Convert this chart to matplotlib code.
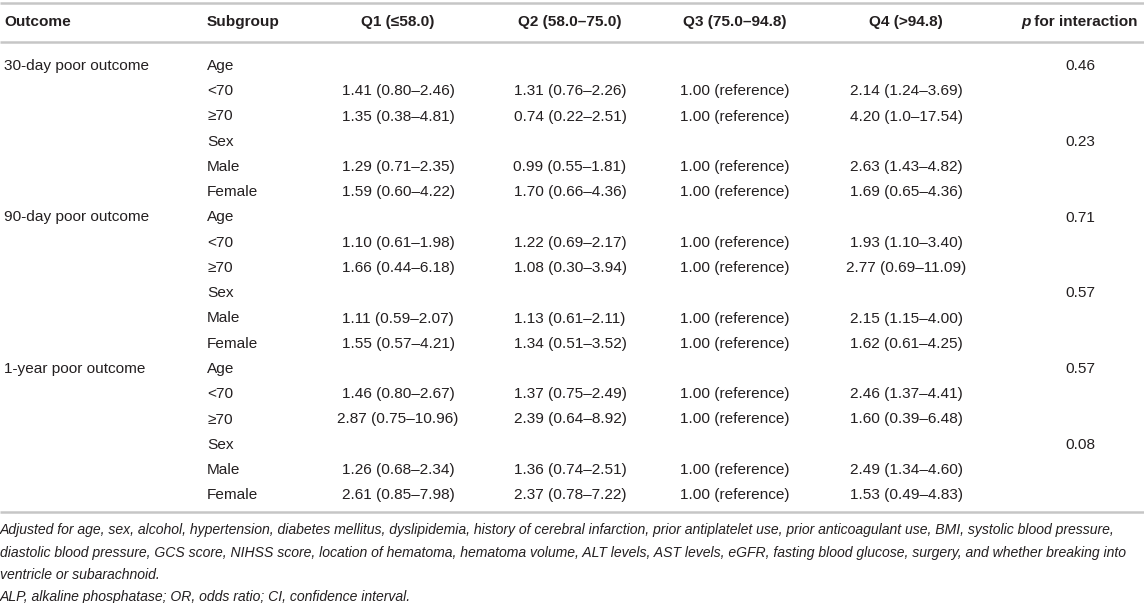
import matplotlib
matplotlib.use("Agg")
import matplotlib.pyplot as plt

# table content
headers = ["Outcome", "Subgroup", "Q1 (\u226458.0)", "Q2 (58.0\u201375.0)",
           "Q3 (75.0\u201394.8)", "Q4 (>94.8)", " for interaction"]
outcomes = ["30-day poor outcome", "90-day poor outcome", "1-year poor outcome"]
subgroups = ["Age", "<70", "\u226570", "Sex", "Male", "Female"]

q1 = [["1.41 (0.80\u20132.46)", "1.35 (0.38\u20134.81)", "1.29 (0.71\u20132.35)", "1.59 (0.60\u20134.22)"],
      ["1.10 (0.61\u20131.98)", "1.66 (0.44\u20136.18)", "1.11 (0.59\u20132.07)", "1.55 (0.57\u20134.21)"],
      ["1.46 (0.80\u20132.67)", "2.87 (0.75\u201310.96)", "1.26 (0.68\u20132.34)", "2.61 (0.85\u20137.98)"]]
q2 = [["1.31 (0.76\u20132.26)", "0.74 (0.22\u20132.51)", "0.99 (0.55\u20131.81)", "1.70 (0.66\u20134.36)"],
      ["1.22 (0.69\u20132.17)", "1.08 (0.30\u20133.94)", "1.13 (0.61\u20132.11)", "1.34 (0.51\u20133.52)"],
      ["1.37 (0.75\u20132.49)", "2.39 (0.64\u20138.92)", "1.36 (0.74\u20132.51)", "2.37 (0.78\u20137.22)"]]
q3 = "1.00 (reference)"
q4 = [["2.14 (1.24\u20133.69)", "4.20 (1.0\u201317.54)", "2.63 (1.43\u20134.82)", "1.69 (0.65\u20134.36)"],
      ["1.93 (1.10\u20133.40)", "2.77 (0.69\u201311.09)", "2.15 (1.15\u20134.00)", "1.62 (0.61\u20134.25)"],
      ["2.46 (1.37\u20134.41)", "1.60 (0.39\u20136.48)", "2.49 (1.34\u20134.60)", "1.53 (0.49\u20134.83)"]]
p_age = ["0.46", "0.71", "0.57"]
p_sex = ["0.23", "0.57", "0.08"]

footnotes = [
    "Adjusted for age, sex, alcohol, hypertension, diabetes mellitus, dyslipidemia, history of "
    "cerebral infarction, prior antiplatelet use, prior anticoagulant use, BMI, systolic blood pressure,",
    "diastolic blood pressure, GCS score, NIHSS score, location of hematoma, hematoma volume, "
    "ALT levels, AST levels, eGFR, fasting blood glucose, surgery, and whether breaking into",
    "ventricle or subarachnoid.",
    "ALP, alkaline phosphatase; OR, odds ratio; CI, confidence interval.",
]

FONT = ["Liberation Sans", "DejaVu Sans"]
FS = 11.1
FS_NOTE = 10.1
TXT = "#231f20"
RULE = "#c6c6c6"

W, H = 1144, 603
fig = plt.figure(figsize=(W / 100, H / 100), dpi=100)
ax = fig.add_axes([0, 0, 1, 1])
ax.set_xlim(0, W)
ax.set_ylim(H, 0)
ax.axis("off")

# column anchors: left edges for the first two, centres for the rest
col_x = [4, 207, 398, 570, 735, 906, 1080]

# rules
for y in (3, 42, 512):
    ax.plot([0, W], [y, y], color=RULE, lw=1.8, solid_capstyle="butt")

# header
hy = 22
kw = dict(va="center", fontsize=FS, fontweight="bold", family=FONT, color=TXT)
ax.text(col_x[0], hy, headers[0], ha="left", **kw)
ax.text(col_x[1], hy, headers[1], ha="left", **kw)
for i in range(2, 6):
    ax.text(col_x[i], hy, headers[i], ha="center", **kw)
t_int = ax.text(1138, hy, headers[6], ha="right", **kw)
renderer = fig.canvas.get_renderer()
bb = t_int.get_window_extent(renderer)
ax.text(bb.x0, hy, "p", ha="right", style="italic", **kw)

# body
y0, dy = 66, 25.25
row = 0
bkw = dict(va="center", fontsize=FS, family=FONT, color=TXT)
for k, outcome in enumerate(outcomes):
    data_i = 0
    for j, sg in enumerate(subgroups):
        y = y0 + row * dy
        if j == 0:
            ax.text(col_x[0], y, outcome, ha="left", **bkw)
        ax.text(col_x[1], y, sg, ha="left", **bkw)
        if sg in ("Age", "Sex"):
            pv = p_age[k] if sg == "Age" else p_sex[k]
            ax.text(col_x[6], y, pv, ha="center", **bkw)
        else:
            vals = [q1[k][data_i], q2[k][data_i], q3, q4[k][data_i]]
            for c, v in enumerate(vals):
                ax.text(col_x[2 + c], y, v, ha="center", **bkw)
            data_i += 1
        row += 1

# footnotes
for y, t in zip((530, 553, 575, 597), footnotes):
    ax.text(0, y, t, ha="left", va="center", fontsize=FS_NOTE, style="italic", family=FONT, color=TXT)

fig.savefig("out.png", dpi=100)
